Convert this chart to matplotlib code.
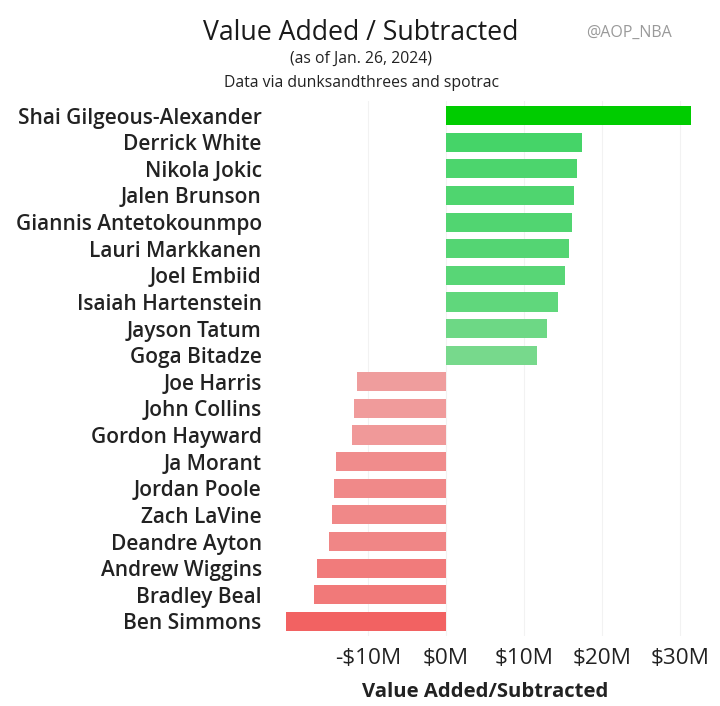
import matplotlib
matplotlib.use("Agg")
import matplotlib.pyplot as plt
import numpy as np
from matplotlib.colors import LinearSegmentedColormap, Normalize
from matplotlib.ticker import FixedLocator

players = ["Shai Gilgeous-Alexander", "Derrick White", "Nikola Jokic", "Jalen Brunson",
           "Giannis Antetokounmpo", "Lauri Markkanen", "Joel Embiid", "Isaiah Hartenstein",
           "Jayson Tatum", "Goga Bitadze", "Joe Harris", "John Collins", "Gordon Hayward",
           "Ja Morant", "Jordan Poole", "Zach LaVine", "Deandre Ayton", "Andrew Wiggins",
           "Bradley Beal", "Ben Simmons"]
values = [31.5, 17.5, 16.8, 16.4, 16.2, 15.8, 15.3, 14.4, 12.9, 11.7,
          -11.4, -11.8, -12.05, -14.1, -14.4, -14.7, -15.0, -16.6, -16.9, -20.5]
tick_values = [-10, 0, 10, 20, 30]
tick_labels = ["-$10M", "$0M", "$10M", "$20M", "$30M"]

plt.rcParams['font.family'] = ['Open Sans', 'DejaVu Sans']

W, H = 720, 706
fig = plt.figure(figsize=(W / 100, H / 100), dpi=100)
ax = fig.add_axes([270 / W, 1 - 636 / H, 430 / W, 535 / H])

green_cmap = LinearSegmentedColormap.from_list(
    "g", [(0, "#86DA97"), (0.35, "#45D468"), (1, "#00CC00")])
red_cmap = LinearSegmentedColormap.from_list(
    "r", [(0, "#EFA6A6"), (1, "#F26262")])
gnorm = Normalize(10, 31.5)
rnorm = Normalize(10, 20.5)
colors = [green_cmap(gnorm(v)) if v >= 0 else red_cmap(rnorm(-v)) for v in values]

y = np.arange(len(players))
ax.barh(y, values, height=0.72, color=colors, zorder=3)
ax.set_ylim(len(players) - 0.45, -0.55)
ax.set_xlim(-22.6, 32.6)

ax.set_yticks(y)
ax.set_yticklabels(players, fontsize=15, fontweight=600, color="#222222")
ax.xaxis.set_major_locator(FixedLocator(tick_values))
ax.set_xticklabels(tick_labels, fontsize=16.2, color="#222222")
ax.tick_params(axis='both', length=0)
ax.tick_params(axis='y', pad=6)
ax.tick_params(axis='x', pad=9)
for s in ax.spines.values():
    s.set_visible(False)
ax.grid(axis='x', color="#f2f2f2", linewidth=0.8, zorder=0)
ax.set_xlabel("Value Added/Subtracted", fontsize=14.6, fontweight='bold',
              color="#222222", labelpad=9)

fig.text(361 / W, 1 - 33 / H, "Value Added / Subtracted", ha='center', va='center',
         fontsize=19.2, fontweight=500, color="#1a1a1a")
fig.text(629 / W, 1 - 33 / H, "@AOP_NBA", ha='center', va='center',
         fontsize=11.5, color="#9a9a9a")
fig.text(361 / W, 1 - 59 / H, "(as of Jan. 26, 2024)", ha='center', va='center',
         fontsize=11.3, color="#222222")
fig.text(361 / W, 1 - 83 / H, "Data via dunksandthrees and spotrac", ha='center',
         va='center', fontsize=11.3, color="#222222")

fig.savefig("out.png", dpi=100)
